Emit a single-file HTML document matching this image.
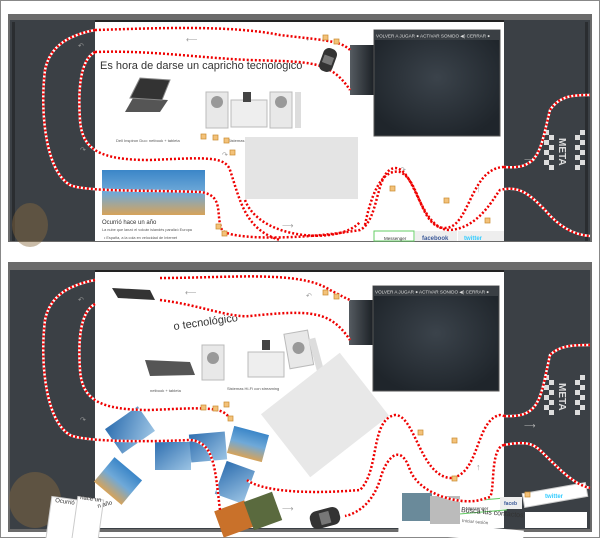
<!DOCTYPE html>
<html><head><meta charset="utf-8"><style>
html,body{margin:0;padding:0;background:#fff;}
svg{display:block;font-family:"Liberation Sans",sans-serif;}
</style></head><body>
<svg width="600" height="538" viewBox="0 0 600 538" xmlns="http://www.w3.org/2000/svg">
<defs>
<radialGradient id="vid" cx="50%" cy="45%" r="60%"><stop offset="0" stop-color="#3b434b"/><stop offset="1" stop-color="#1f252b"/></radialGradient>
<linearGradient id="sky" x1="0" y1="0" x2="0" y2="1"><stop offset="0" stop-color="#3b86c8"/><stop offset=".5" stop-color="#6fa9d8"/><stop offset="1" stop-color="#d6a35a"/></linearGradient>
<linearGradient id="ph" x1="0" y1="0" x2="1" y2="1"><stop offset="0" stop-color="#2f6fb0"/><stop offset="1" stop-color="#9cc4e4"/></linearGradient>
<linearGradient id="ramp" x1="0" y1="0" x2="1" y2="0"><stop offset="0" stop-color="#555b61"/><stop offset="1" stop-color="#1c2126"/></linearGradient>
</defs>
<rect x="0.5" y="0.5" width="599" height="537" fill="#fff" stroke="#888"/>

<!-- ============ TOP PANEL ============ -->
<rect x="8" y="14" width="584" height="228" fill="#6b6b6b"/>
<rect x="10" y="20" width="580" height="221" fill="#3b4045"/>
<rect x="12" y="22" width="3" height="219" fill="#2a2d30"/>
<rect x="585" y="22" width="3" height="219" fill="#2a2d30"/>
<ellipse cx="30" cy="225" rx="18" ry="22" fill="#8a6a3e" opacity=".45"/>
<rect x="95" y="20" width="409" height="221" fill="#fff"/>
<rect x="95" y="20" width="409" height="2" fill="#222"/>
<rect x="350" y="45" width="24" height="50" fill="url(#ramp)"/>
<rect x="374" y="30" width="126" height="106" fill="url(#vid)" stroke="#555"/>
<rect x="374" y="30" width="126" height="10" fill="#3a3f44"/>
<text x="376" y="37.5" font-size="4.6" fill="#ddd">VOLVER A JUGAR ● ACTIVAR SONIDO ◀) CERRAR ●</text>
<text x="100" y="69" font-size="11" fill="#333">Es hora de darse un capricho tecnológico</text>
<path d="M125 112 L160 112 L168 100 L133 98 Z" fill="#555"/><path d="M130 98 L140 78 L170 80 L162 100 Z" fill="#333" stroke="#888"/>
<rect x="206" y="92" width="22" height="36" fill="#e8e8e8" stroke="#bbb"/><circle cx="217" cy="102" r="6" fill="#999"/>
<rect x="231" y="100" width="36" height="27" fill="#eee" stroke="#bbb"/><rect x="243" y="92" width="8" height="10" fill="#444"/>
<rect x="270" y="92" width="22" height="36" fill="#e8e8e8" stroke="#bbb"/><circle cx="281" cy="102" r="6" fill="#999"/>
<rect x="295" y="92" width="6" height="36" fill="#ddd"/>
<text x="116" y="142" font-size="4" fill="#555">Dell Inspiron Duo: netbook + tableta</text>
<text x="228" y="142" font-size="4" fill="#555">Sistemas Hi-Fi con streaming</text>
<rect x="245" y="137" width="113" height="62" fill="#e4e4e4"/>
<rect x="102" y="170" width="103" height="45" fill="url(#sky)"/>
<text x="102" y="224" font-size="6" fill="#333">Ocurrió hace un año</text>
<text x="102" y="231" font-size="3.8" fill="#555">La nube que lanzó el volcán islandés paralizó Europa</text>
<text x="104" y="239" font-size="3.8" fill="#555">• España, a la cola en velocidad de Internet</text>
<rect x="374" y="231" width="40" height="10" fill="#fff" stroke="#6c6"/><text x="384" y="240" font-size="4.5" fill="#333">Messenger</text>
<rect x="415" y="231" width="42" height="10" fill="#eee"/><text x="422" y="240" font-size="6" fill="#3b5998" font-weight="bold">facebook</text>
<rect x="458" y="231" width="46" height="10" fill="#eee"/><text x="464" y="240" font-size="6" fill="#33ccff" font-weight="bold">twitter</text>
<text x="186" y="42" font-size="8" fill="#999">⟵</text><text x="306" y="42" font-size="7" fill="#999">↶</text>
<text x="78" y="48" font-size="7" fill="#999">↶</text><text x="80" y="152" font-size="7" fill="#999">↷</text>
<text x="222" y="157" font-size="7" fill="#999">↷</text><text x="282" y="228" font-size="8" fill="#999">⟶</text>
<text x="400" y="172" font-size="7" fill="#999">↷</text><text x="476" y="192" font-size="9" fill="#999">↑</text>
<text x="524" y="162" font-size="8" fill="#bbb">⟶</text>
<g fill="#ddd"><rect x="544" y="130" width="5" height="5"/><rect x="549" y="135" width="5" height="5"/><rect x="544" y="140" width="5" height="5"/><rect x="549" y="145" width="5" height="5"/><rect x="544" y="150" width="5" height="5"/><rect x="549" y="155" width="5" height="5"/><rect x="544" y="160" width="5" height="5"/><rect x="549" y="165" width="5" height="5"/>
<rect x="580" y="130" width="5" height="5"/><rect x="575" y="135" width="5" height="5"/><rect x="580" y="140" width="5" height="5"/><rect x="575" y="145" width="5" height="5"/><rect x="580" y="150" width="5" height="5"/><rect x="575" y="155" width="5" height="5"/><rect x="580" y="160" width="5" height="5"/><rect x="575" y="165" width="5" height="5"/></g>
<text x="0" y="0" font-size="10" fill="#ddd" font-weight="bold" transform="translate(559,138) rotate(90)">META</text>
<g fill="none" stroke-width="2.5">
<g stroke="#fff">
<path d="M95 30 C70 35 50 45 45 70 C40 110 45 170 70 185 C85 192 150 190 200 192 C225 195 215 215 222 230 C230 240 300 240 360 230 C380 220 375 170 395 168 C415 168 420 230 450 230 C480 228 495 195 500 190 C520 185 530 195 545 210 C560 228 575 235 590 236"/>
<path d="M95 52 C80 60 78 90 80 120 C82 150 100 160 150 160 C200 158 225 155 230 170 C240 200 245 230 280 240"/>
<path d="M95 30 C160 28 230 25 280 35 C320 40 340 40 350 50"/>
<path d="M95 52 C150 50 200 58 250 60 C310 62 330 60 350 90"/>
<path d="M245 200 C260 240 340 245 360 222"/>
<path d="M504 167 C540 170 540 150 550 110 C560 95 575 95 590 95"/>
<path d="M504 167 C470 168 470 228 445 228 C420 228 420 180 400 172 C380 168 370 200 365 225"/>
</g>
<g stroke="#e00" stroke-dasharray="2 2">
<path d="M95 30 C70 35 50 45 45 70 C40 110 45 170 70 185 C85 192 150 190 200 192 C225 195 215 215 222 230 C230 240 300 240 360 230 C380 220 375 170 395 168 C415 168 420 230 450 230 C480 228 495 195 500 190 C520 185 530 195 545 210 C560 228 575 235 590 236"/>
<path d="M95 52 C80 60 78 90 80 120 C82 150 100 160 150 160 C200 158 225 155 230 170 C240 200 245 230 280 240"/>
<path d="M95 30 C160 28 230 25 280 35 C320 40 340 40 350 50"/>
<path d="M95 52 C150 50 200 58 250 60 C310 62 330 60 350 90"/>
<path d="M245 200 C260 240 340 245 360 222"/>
<path d="M504 167 C540 170 540 150 550 110 C560 95 575 95 590 95"/>
<path d="M504 167 C470 168 470 228 445 228 C420 228 420 180 400 172 C380 168 370 200 365 225"/>
</g></g>
<g fill="#f3c27a" stroke="#c98a2e" stroke-width=".7"><rect x="323" y="35" width="5" height="5"/><rect x="334" y="39" width="5" height="5"/><rect x="201" y="134" width="5" height="5"/><rect x="213" y="135" width="5" height="5"/><rect x="224" y="138" width="5" height="5"/><rect x="230" y="150" width="5" height="5"/><rect x="390" y="186" width="5" height="5"/><rect x="444" y="198" width="5" height="5"/><rect x="485" y="218" width="5" height="5"/><rect x="216" y="224" width="5" height="5"/><rect x="222" y="231" width="5" height="5"/></g>
<g transform="translate(328,60) rotate(-70)"><rect x="-12" y="-7" width="24" height="14" rx="6" fill="#333"/><rect x="-4" y="-5" width="8" height="10" fill="#777"/></g>

<!-- ============ BOTTOM PANEL ============ -->
<rect x="8" y="262" width="584" height="270" fill="#6b6b6b"/>
<rect x="10" y="270" width="580" height="259" fill="#3b4045"/>
<ellipse cx="35" cy="500" rx="26" ry="28" fill="#8a6a3e" opacity=".45"/>
<rect x="95" y="270" width="409" height="258" fill="#fff"/>
<rect x="95" y="270" width="409" height="2" fill="#222"/>
<rect x="349" y="300" width="24" height="45" fill="url(#ramp)"/>
<rect x="373" y="286" width="126" height="105" fill="url(#vid)" stroke="#555"/>
<rect x="373" y="286" width="126" height="10" fill="#3a3f44"/>
<text x="375" y="293.5" font-size="4.6" fill="#ddd">VOLVER A JUGAR ● ACTIVAR SONIDO ◀) CERRAR ●</text>
<path d="M112 288 L150 290 L155 300 L118 298 Z" fill="#333"/>
<text x="0" y="0" font-size="11" fill="#333" transform="translate(174,330) rotate(-8)">o tecnológico</text>
<path d="M145 360 L190 362 L195 375 L150 376 Z" fill="#555"/>
<rect x="202" y="345" width="22" height="35" fill="#e8e8e8" stroke="#bbb"/><circle cx="213" cy="358" r="6" fill="#999"/>
<rect x="248" y="352" width="36" height="25" fill="#eee" stroke="#bbb"/><rect x="262" y="340" width="8" height="10" fill="#444"/>
<g transform="rotate(-10 298 345)"><rect x="286" y="332" width="24" height="35" fill="#e8e8e8" stroke="#bbb"/><circle cx="298" cy="348" r="6" fill="#999"/></g>
<rect x="313" y="338" width="7" height="36" fill="#ddd" transform="rotate(-15 316 356)"/>
<text x="150" y="392" font-size="4" fill="#555">netbook + tableta</text>
<text x="227" y="390" font-size="4" fill="#555">Sistemas Hi-Fi con streaming</text>
<rect x="275" y="375" width="100" height="80" fill="#e8e8e8" transform="rotate(-38 325 415)"/>
<rect x="110" y="415" width="40" height="30" fill="url(#ph)" transform="rotate(-35 130 430)"/>
<rect x="155" y="442" width="36" height="28" fill="url(#ph)"/>
<rect x="190" y="433" width="36" height="28" fill="url(#ph)" transform="rotate(-5 208 447)"/>
<rect x="230" y="430" width="36" height="28" fill="url(#sky)" transform="rotate(15 248 444)"/>
<rect x="100" y="465" width="36" height="32" fill="url(#sky)" transform="rotate(40 118 481)"/>
<rect x="220" y="465" width="30" height="35" fill="url(#ph)" transform="rotate(20 235 482)"/>
<rect x="218" y="505" width="32" height="28" fill="#c9712a" transform="rotate(-20 234 519)"/>
<rect x="248" y="496" width="30" height="30" fill="#5a6a3e" transform="rotate(-20 263 511)"/>
<g fill="#fff" stroke="#ccc"><rect x="48" y="498" width="26" height="55" transform="rotate(8 61 525)"/><rect x="74" y="498" width="26" height="55" transform="rotate(8 87 525)"/></g>
<text x="55" y="502" font-size="6" fill="#333" transform="rotate(8 55 502)">Ocurrió</text><text x="80" y="499" font-size="6" fill="#333" transform="rotate(8 80 499)">hace un</text><text x="98" y="508" font-size="6" fill="#333" transform="rotate(-15 98 508)">n año</text>
<rect x="458" y="500" width="48" height="12" fill="#fff" stroke="#6c6" transform="rotate(-5 482 506)"/><text x="466" y="510" font-size="4.5" fill="#333">Messenger</text>
<rect x="500" y="497" width="22" height="12" fill="#eee"/><text x="504" y="505" font-size="5" fill="#3b5998" font-weight="bold">faceb</text>
<rect x="523" y="488" width="64" height="14" fill="#fff" stroke="#ccc" transform="rotate(-10 555 495)"/><text x="545" y="498" font-size="6" fill="#33ccff" font-weight="bold">twitter</text>
<rect x="525" y="512" width="62" height="16" fill="#fff"/>
<rect x="400" y="525" width="125" height="13" fill="#fff" transform="rotate(5 460 515)"/>
<rect x="400" y="492" width="60" height="40" fill="#fff" transform="rotate(5 430 512)"/>
<rect x="402" y="493" width="30" height="28" fill="#6a8a9a"/><rect x="430" y="496" width="30" height="28" fill="#bbb"/>
<text x="0" y="0" font-size="7" fill="#333" transform="translate(461,512) rotate(5)">Busca tus contactos</text>
<text x="0" y="0" font-size="4.5" fill="#555" transform="translate(462,522) rotate(5)">Iniciar sesión</text>
<g fill="#ddd" transform="translate(0,245)"><rect x="544" y="130" width="5" height="5"/><rect x="549" y="135" width="5" height="5"/><rect x="544" y="140" width="5" height="5"/><rect x="549" y="145" width="5" height="5"/><rect x="544" y="150" width="5" height="5"/><rect x="549" y="155" width="5" height="5"/><rect x="544" y="160" width="5" height="5"/><rect x="549" y="165" width="5" height="5"/>
<rect x="580" y="130" width="5" height="5"/><rect x="575" y="135" width="5" height="5"/><rect x="580" y="140" width="5" height="5"/><rect x="575" y="145" width="5" height="5"/><rect x="580" y="150" width="5" height="5"/><rect x="575" y="155" width="5" height="5"/><rect x="580" y="160" width="5" height="5"/><rect x="575" y="165" width="5" height="5"/></g>
<text x="0" y="0" font-size="10" fill="#ddd" font-weight="bold" transform="translate(559,383) rotate(90)">META</text>
<text x="524" y="428" font-size="8" fill="#bbb">⟶</text>
<text x="185" y="295" font-size="8" fill="#999">⟵</text><text x="306" y="298" font-size="7" fill="#999">↶</text>
<text x="78" y="302" font-size="7" fill="#999">↶</text><text x="80" y="422" font-size="7" fill="#999">↷</text>
<text x="476" y="470" font-size="9" fill="#999">↑</text><text x="282" y="511" font-size="8" fill="#999">⟶</text>
<g fill="none" stroke-width="2.5">
<g stroke="#fff">
<path d="M95 280 C70 285 50 295 45 320 C40 360 45 420 70 435 C85 442 150 442 190 440 C215 442 215 470 220 510"/>
<path d="M95 304 C80 312 78 340 80 370 C82 400 100 410 150 410 C200 408 225 405 230 420"/>
<path d="M160 278 C230 278 300 270 330 290 C340 295 345 298 350 300"/>
<path d="M160 300 C200 305 230 318 250 316 C310 310 330 310 350 340"/>
<path d="M247 480 C260 490 300 495 360 490 C380 470 370 420 395 415 C415 415 420 475 450 478 C480 476 475 420 500 415 L504 416"/>
<path d="M504 445 C490 448 495 490 490 497 L480 500 C460 505 420 495 410 470 C400 440 385 460 380 480 C370 510 350 515 345 516"/>
<path d="M504 416 C540 418 540 400 550 355 C560 345 575 345 590 345"/>
<path d="M504 445 C530 440 535 445 545 455 C560 470 575 485 590 488"/>
</g>
<g stroke="#e00" stroke-dasharray="2 2">
<path d="M95 280 C70 285 50 295 45 320 C40 360 45 420 70 435 C85 442 150 442 190 440 C215 442 215 470 220 510"/>
<path d="M95 304 C80 312 78 340 80 370 C82 400 100 410 150 410 C200 408 225 405 230 420"/>
<path d="M160 278 C230 278 300 270 330 290 C340 295 345 298 350 300"/>
<path d="M160 300 C200 305 230 318 250 316 C310 310 330 310 350 340"/>
<path d="M247 480 C260 490 300 495 360 490 C380 470 370 420 395 415 C415 415 420 475 450 478 C480 476 475 420 500 415 L504 416"/>
<path d="M504 445 C490 448 495 490 490 497 L480 500 C460 505 420 495 410 470 C400 440 385 460 380 480 C370 510 350 515 345 516"/>
<path d="M504 416 C540 418 540 400 550 355 C560 345 575 345 590 345"/>
<path d="M504 445 C530 440 535 445 545 455 C560 470 575 485 590 488"/>
</g></g>
<g fill="#f3c27a" stroke="#c98a2e" stroke-width=".7"><rect x="323" y="290" width="5" height="5"/><rect x="334" y="294" width="5" height="5"/><rect x="201" y="405" width="5" height="5"/><rect x="213" y="406" width="5" height="5"/><rect x="224" y="402" width="5" height="5"/><rect x="228" y="416" width="5" height="5"/><rect x="418" y="430" width="5" height="5"/><rect x="452" y="438" width="5" height="5"/><rect x="452" y="476" width="5" height="5"/><rect x="525" y="492" width="5" height="5"/></g>
<g transform="translate(325,518) rotate(-15)"><rect x="-15" y="-9" width="30" height="18" rx="7" fill="#333"/><rect x="-5" y="-6" width="10" height="12" fill="#777"/></g>
</svg>
</body></html>
